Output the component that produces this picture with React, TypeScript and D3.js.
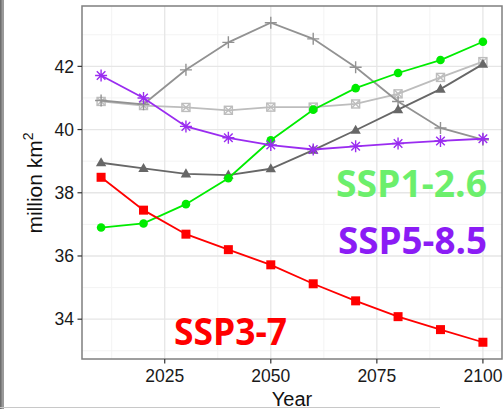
import React from "react";
import * as d3 from "d3";

// Sea-ice / area projections (million km²) by decade under several scenarios
const years = [2010, 2020, 2030, 2040, 2050, 2060, 2070, 2080, 2090, 2100];

const ssp119 = [40.89, 40.76, 40.7, 40.61, 40.71, 40.71, 40.81, 41.13, 41.65, 42.15];
const ssp245 = [40.92, 40.8, 41.89, 42.76, 43.38, 42.87, 41.97, 40.89, 40.05, 39.68];
const ssp434 = [38.95, 38.77, 38.6, 38.56, 38.76, 39.35, 39.98, 40.63, 41.28, 42.07];
const ssp126 = [36.9, 37.03, 37.64, 38.46, 39.66, 40.63, 41.31, 41.79, 42.2, 42.78];
const ssp370 = [38.49, 37.45, 36.69, 36.2, 35.72, 35.12, 34.58, 34.08, 33.67, 33.27];
const ssp585 = [41.71, 41.0, 40.1, 39.74, 39.51, 39.37, 39.47, 39.56, 39.64, 39.71];

const xTicks = [2025, 2050, 2075, 2100];
const yTicks = [34, 36, 38, 40, 42];

type Shape = "square" | "circle" | "triangle" | "boxx" | "plus" | "star";

const seriesList: { name: string; values: number[]; color: string; shape: Shape }[] = [
  { name: "SSP1-1.9", values: ssp119, color: "#bdbdbd", shape: "boxx" },
  { name: "SSP2-4.5", values: ssp245, color: "#929292", shape: "plus" },
  { name: "SSP4-3.4", values: ssp434, color: "#676767", shape: "triangle" },
  { name: "SSP1-2.6", values: ssp126, color: "#00ec00", shape: "circle" },
  { name: "SSP3-7", values: ssp370, color: "#ff0000", shape: "square" },
  { name: "SSP5-8.5", values: ssp585, color: "#9a2cf0", shape: "star" },
];

const W = 504;
const H = 409;
const panel = { left: 82, top: 6, right: 502, bottom: 359 };

function Marker({ shape, x, y, color }: { shape: Shape; x: number; y: number; color: string }) {
  switch (shape) {
    case "square":
      return <rect x={x - 4.5} y={y - 4.5} width={9} height={9} fill={color} />;
    case "circle":
      return <circle cx={x} cy={y} r={4.3} fill={color} />;
    case "triangle":
      return (
        <path
          d={`M${x},${y - 5.5}L${x + 5.2},${y + 3.6}L${x - 5.2},${y + 3.6}Z`}
          fill={color}
        />
      );
    case "boxx":
      return (
        <g stroke={color} strokeWidth={1.4} fill="none">
          <rect x={x - 4} y={y - 4} width={8} height={8} />
          <path d={`M${x - 4},${y - 4}L${x + 4},${y + 4}M${x + 4},${y - 4}L${x - 4},${y + 4}`} />
        </g>
      );
    case "plus":
      return (
        <path
          d={`M${x - 6},${y}L${x + 6},${y}M${x},${y - 6}L${x},${y + 6}`}
          stroke={color}
          strokeWidth={1.4}
        />
      );
    case "star":
      return (
        <path
          d={`M${x - 6},${y}L${x + 6},${y}M${x},${y - 6}L${x},${y + 6}M${x - 4.3},${y - 4.3}L${x + 4.3},${y + 4.3}M${x + 4.3},${y - 4.3}L${x - 4.3},${y + 4.3}`}
          stroke={color}
          strokeWidth={1.4}
        />
      );
  }
  return null;
}

export default function App() {
  const x = d3.scaleLinear().domain([2005.5, 2104.5]).range([panel.left, panel.right]);
  const y = d3.scaleLinear().domain([32.74, 43.91]).range([panel.bottom, panel.top]);

  const line = d3
    .line<number>()
    .x((_, i) => x(years[i]))
    .y((v) => y(v));

  const xMinor = [2012.5, 2037.5, 2062.5, 2087.5];
  const yMinor = [33, 35, 37, 39, 41, 43];
  const axisFont = "Liberation Sans, Arial, Helvetica, sans-serif";
  const labelFont = "'Open Sans', 'Noto Sans', sans-serif";

  return (
    <svg
      width={W}
      height={H}
      style={{ position: "absolute", left: 0, top: 0, background: "#fff" }}
    >
      {/* edge strip */}
      <rect x={0} y={0} width={4} height={H} fill="#9a9a9a" />
      <rect x={0} y={0} width={1.5} height={H} fill="#6e6e6e" />
      <line x1={0} x2={440} y1={407.5} y2={407.5} stroke="#c8c8c8" strokeWidth={1} />

      {/* panel */}
      <rect
        x={panel.left}
        y={panel.top}
        width={panel.right - panel.left}
        height={panel.bottom - panel.top}
        fill="#fff"
      />
      <g>
        {xMinor.map((t) => (
          <line key={`xm${t}`} x1={x(t)} x2={x(t)} y1={panel.top} y2={panel.bottom} stroke="#f3f3f3" strokeWidth={1} />
        ))}
        {yMinor.map((t) => (
          <line key={`ym${t}`} x1={panel.left} x2={panel.right} y1={y(t)} y2={y(t)} stroke="#f3f3f3" strokeWidth={1} />
        ))}
        {xTicks.map((t) => (
          <line key={`xg${t}`} x1={x(t)} x2={x(t)} y1={panel.top} y2={panel.bottom} stroke="#e6e6e6" strokeWidth={1.3} />
        ))}
        {yTicks.map((t) => (
          <line key={`yg${t}`} x1={panel.left} x2={panel.right} y1={y(t)} y2={y(t)} stroke="#e6e6e6" strokeWidth={1.3} />
        ))}
      </g>

      {/* series */}
      {seriesList.map((s) => (
        <g key={s.name}>
          <path d={line(s.values) || ""} fill="none" stroke={s.color} strokeWidth={1.8} />
          {s.values.map((v, i) => (
            <Marker key={i} shape={s.shape} x={x(years[i])} y={y(v)} color={s.color} />
          ))}
        </g>
      ))}

      <rect
        x={panel.left}
        y={panel.top}
        width={panel.right - panel.left}
        height={panel.bottom - panel.top}
        fill="none"
        stroke="#7f7f7f"
        strokeWidth={1.5}
      />

      {/* axes */}
      {xTicks.map((t) => (
        <g key={`xt${t}`}>
          <line x1={x(t)} x2={x(t)} y1={panel.bottom} y2={panel.bottom + 4.5} stroke="#333" strokeWidth={1.2} />
          <text
            x={x(t)}
            y={panel.bottom + 23}
            textAnchor="middle"
            fontFamily={axisFont}
            fontSize={17.5}
            fill="#1a1a1a"
          >
            {t}
          </text>
        </g>
      ))}
      {yTicks.map((t) => (
        <g key={`yt${t}`}>
          <line x1={panel.left - 4.5} x2={panel.left} y1={y(t)} y2={y(t)} stroke="#333" strokeWidth={1.2} />
          <text
            x={panel.left - 8}
            y={y(t) + 6.2}
            textAnchor="end"
            fontFamily={axisFont}
            fontSize={17.5}
            fill="#1a1a1a"
          >
            {t}
          </text>
        </g>
      ))}

      <text
        x={(panel.left + panel.right) / 2}
        y={406}
        textAnchor="middle"
        fontFamily={axisFont}
        fontSize={20}
        fill="#111"
      >
        Year
      </text>
      <text
        transform="translate(42,183) rotate(-90)"
        textAnchor="middle"
        fontFamily={axisFont}
        fontSize={21}
        fill="#111"
      >
        million km
        <tspan dy={-9} fontSize={14}>
          2
        </tspan>
      </text>

      {/* scenario labels */}
      <text
        x={487}
        y={197}
        textAnchor="end"
        fontFamily={labelFont}
        fontWeight={700}
        fontSize={38}
        fill="#6cef6c"
        textLength={151}
        lengthAdjust="spacingAndGlyphs"
      >
        SSP1-2.6
      </text>
      <text
        x={487}
        y={254}
        textAnchor="end"
        fontFamily={labelFont}
        fontWeight={700}
        fontSize={37}
        fill="#8b1cf5"
        textLength={149}
        lengthAdjust="spacingAndGlyphs"
      >
        SSP5-8.5
      </text>
      <text
        x={174}
        y={345}
        fontFamily={labelFont}
        fontWeight={700}
        fontSize={37}
        fill="#ff0000"
        textLength={113}
        lengthAdjust="spacingAndGlyphs"
      >
        SSP3-7
      </text>
    </svg>
  );
}
